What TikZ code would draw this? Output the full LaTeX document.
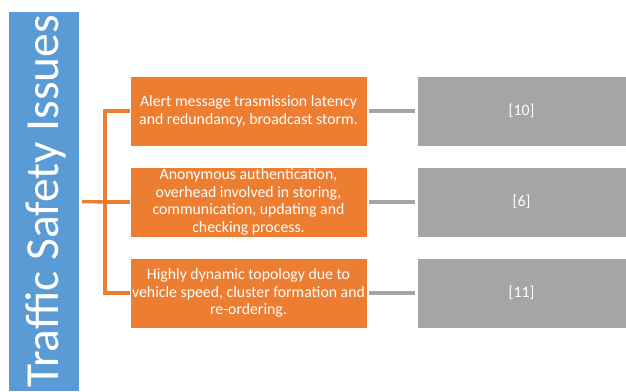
\documentclass[tikz,border=0pt]{standalone}
\usepackage{fontspec}
\setmainfont{Carlito}
\usepackage{xcolor}
\definecolor{titleblue}{HTML}{5B9BD5}
\definecolor{issueorange}{HTML}{ED7D31}
\definecolor{refgrey}{HTML}{A5A5A5}

\begin{document}
\begin{tikzpicture}[x=1pt,y=1pt,
  issuebox/.style={fill=issueorange, draw=white, thin, minimum width=237pt, minimum height=70pt,
    align=center, text=white, font=\fontsize{15.8}{17.7}\selectfont, inner sep=0pt},
  refbox/.style={fill=refgrey, draw=white, thin, minimum width=209pt, minimum height=70pt,
    text=white, font=\fontsize{15.8}{17.7}\selectfont},
  forkline/.style={draw=issueorange, line width=3.4pt},
  refline/.style={draw=refgrey, line width=3.4pt, shorten <=2pt, shorten >=2pt}]

\useasboundingbox (0,0) rectangle (626,391); % page size

% Title bar
\node[fill=titleblue, minimum width=70pt, minimum height=379pt, inner sep=0pt] (title) at (44,189.5) {};
\node[rotate=90, text=white, font=\fontsize{47.5}{47.5}\selectfont, anchor=base] (titletext) at (58,189.5) {Traffic Safety Issues};

% Issue boxes
\node[issuebox] (alert) at (248.5,280) {Alert message trasmission latency\\and redundancy, broadcast storm.};
\node[issuebox] (anon) at (248.5,189) {Anonymous authentication,\\overhead involved in storing,\\communication, updating and\\checking process.};
\node[issuebox] (topo) at (248.5,98) {Highly dynamic topology due to\\vehicle speed, cluster formation and\\re-ordering.};

% Reference boxes
\node[refbox] (ref10) at (521.5,280) {[10]};
\node[refbox] (ref6) at (521.5,189) {[6]};
\node[refbox] (ref11) at (521.5,98) {[11]};

% Fork
\coordinate (fork) at (105,189);
\draw[forkline, shorten <=3pt] (title.east) -- (fork); % stem
\draw[forkline] (fork) -- (anon.west);
\draw[forkline] (fork) |- (alert.west);
\draw[forkline] (fork) |- (topo.west);

% Links to references
\draw[refline] (alert.east) -- (ref10.west);
\draw[refline] (anon.east) -- (ref6.west);
\draw[refline] (topo.east) -- (ref11.west);

\end{tikzpicture}
\end{document}
